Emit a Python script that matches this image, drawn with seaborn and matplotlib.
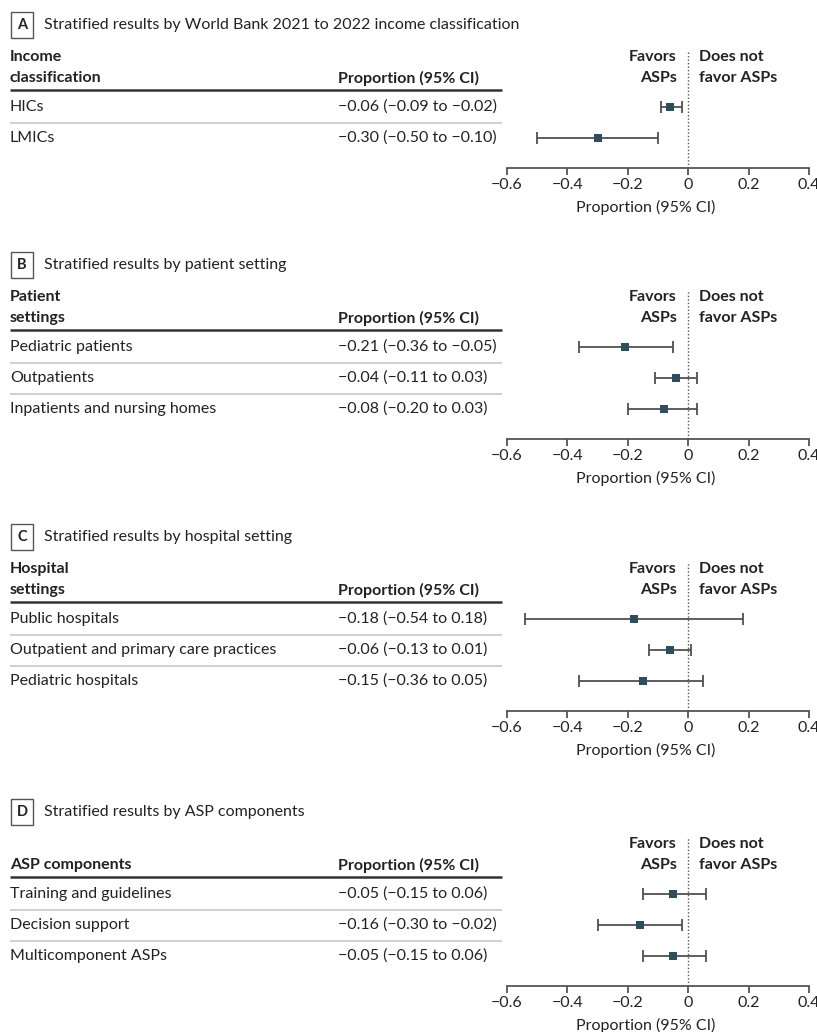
import numpy as np
import pandas as pd
import matplotlib
matplotlib.use("Agg")
import matplotlib.pyplot as plt
import seaborn as sns

# Panel A - income classification
a_labels = ["HICs", "LMICs"]
a_est = [-0.06, -0.30]
a_lo = [-0.09, -0.50]
a_hi = [-0.02, -0.10]

# Panel B - patient setting
b_labels = ["Pediatric patients", "Outpatients", "Inpatients and nursing homes"]
b_est = [-0.21, -0.04, -0.08]
b_lo = [-0.36, -0.11, -0.20]
b_hi = [-0.05, 0.03, 0.03]

# Panel C - hospital setting
c_labels = ["Public hospitals", "Outpatient and primary care practices", "Pediatric hospitals"]
c_est = [-0.18, -0.06, -0.15]
c_lo = [-0.54, -0.13, -0.36]
c_hi = [0.18, 0.01, 0.05]

# Panel D - ASP components
d_labels = ["Training and guidelines", "Decision support", "Multicomponent ASPs"]
d_est = [-0.05, -0.16, -0.05]
d_lo = [-0.15, -0.30, -0.15]
d_hi = [0.06, -0.02, 0.06]

x_ticks = [-0.6, -0.4, -0.2, 0, 0.2, 0.4]
x_ticklabels = ["−0.6", "−0.4", "−0.2", "0", "0.2", "0.4"]

sns.set_style("white")
plt.rcParams["font.family"] = ["Lato", "DejaVu Sans"]

W, H = 817, 1032
fig = plt.figure(figsize=(W / 100, H / 100), dpi=100)
bg = fig.add_axes([0, 0, 1, 1])
bg.set_xlim(0, W)
bg.set_ylim(H, 0)
bg.axis("off")

TXT = "#222222"
MARK = "#2d4f5b"
LINE = "#505050"
FS = 11.5
ROW = 31
X0, X1 = 507, 809  # pixel positions of -0.6 and 0.4


def fmt(v):
    return f"{v:.2f}".replace("-", "−")


def panel(L, letter, title, head, labels, est, lo, hi):
    bg.text(22, L, letter, ha="center", va="center", fontsize=FS - 1, fontweight="bold",
            color=TXT, bbox=dict(boxstyle="square,pad=0.4", fc="white", ec="#555555", lw=1))
    bg.text(44, L, title, ha="left", va="center", fontsize=FS, color=TXT)

    # header
    for i, h in enumerate(head[::-1]):
        bg.text(10, L + 53 - 21 * i, h, ha="left", va="center", fontsize=FS,
                fontweight="bold", color=TXT)
    bg.text(338, L + 53, "Proportion (95% CI)", ha="left", va="center", fontsize=FS,
            fontweight="bold", color=TXT)
    bg.text(677, L + 32, "Favors", ha="right", va="center", fontsize=FS, fontweight="bold", color=TXT)
    bg.text(677, L + 53, "ASPs", ha="right", va="center", fontsize=FS, fontweight="bold", color=TXT)
    bg.text(699, L + 32, "Does not", ha="left", va="center", fontsize=FS, fontweight="bold", color=TXT)
    bg.text(699, L + 53, "favor ASPs", ha="left", va="center", fontsize=FS, fontweight="bold", color=TXT)
    bg.plot([10, 502], [L + 65, L + 65], color="#333333", lw=1.8, solid_capstyle="butt")

    n = len(labels)
    y0 = L + 82
    for i in range(n):
        y = y0 + ROW * i
        bg.text(10, y, labels[i], ha="left", va="center", fontsize=FS, color=TXT)
        bg.text(338, y, f"{fmt(est[i])} ({fmt(lo[i])} to {fmt(hi[i])})", ha="left",
                va="center", fontsize=FS, color=TXT)
        if i < n - 1:
            bg.plot([10, 502], [y + 15.5, y + 15.5], color="#d0d0d0", lw=1.4, solid_capstyle="butt")

    # forest axes
    top_px = L + 25
    axis_px = y0 + ROW * n - 1
    h_px = axis_px - top_px
    ax = fig.add_axes([X0 / W, 1 - axis_px / H, (X1 - X0) / W, h_px / H])
    ax.set_xlim(-0.6, 0.4)
    ax.set_ylim(n - 1 + (axis_px - (y0 + ROW * (n - 1))) / ROW, (top_px - y0) / ROW)
    ax.patch.set_alpha(0)
    df = pd.DataFrame({"label": labels, "est": est, "lo": lo, "hi": hi, "pos": np.arange(n)})
    ax.axvline(0, color="#555555", lw=1, ls=(0, (1, 1.5)))
    ax.hlines(df["pos"], df["lo"], df["hi"], color=LINE, lw=1.3)
    ax.vlines(df["lo"], df["pos"] - 0.2, df["pos"] + 0.2, color=LINE, lw=1.3)
    ax.vlines(df["hi"], df["pos"] - 0.2, df["pos"] + 0.2, color=LINE, lw=1.3)
    sns.scatterplot(data=df, x="est", y="pos", marker="s", s=40, color=MARK,
                    edgecolor=MARK, linewidth=0, ax=ax, zorder=5, clip_on=False)
    for s in ["top", "left", "right"]:
        ax.spines[s].set_visible(False)
    ax.spines["bottom"].set_color("#555555")
    ax.spines["bottom"].set_linewidth(1.3)
    ax.set_yticks([])
    ax.set_xticks(x_ticks)
    ax.set_xticklabels(x_ticklabels, fontsize=FS, color=TXT)
    ax.tick_params(axis="x", length=5, width=1.3, color="#555555", pad=2, bottom=True)
    ax.set_ylabel("")
    ax.set_xlabel("Proportion (95% CI)", fontsize=FS, color=TXT)
    ax.xaxis.set_label_coords((646 - X0) / (X1 - X0), -32 / h_px)


panel(25, "A", "Stratified results by World Bank 2021 to 2022 income classification",
      ["Income", "classification"], a_labels, a_est, a_lo, a_hi)
panel(265, "B", "Stratified results by patient setting",
      ["Patient", "settings"], b_labels, b_est, b_lo, b_hi)
panel(537, "C", "Stratified results by hospital setting",
      ["Hospital", "settings"], c_labels, c_est, c_lo, c_hi)
panel(812, "D", "Stratified results by ASP components",
      ["ASP components"], d_labels, d_est, d_lo, d_hi)

fig.savefig("out.png", dpi=100)
